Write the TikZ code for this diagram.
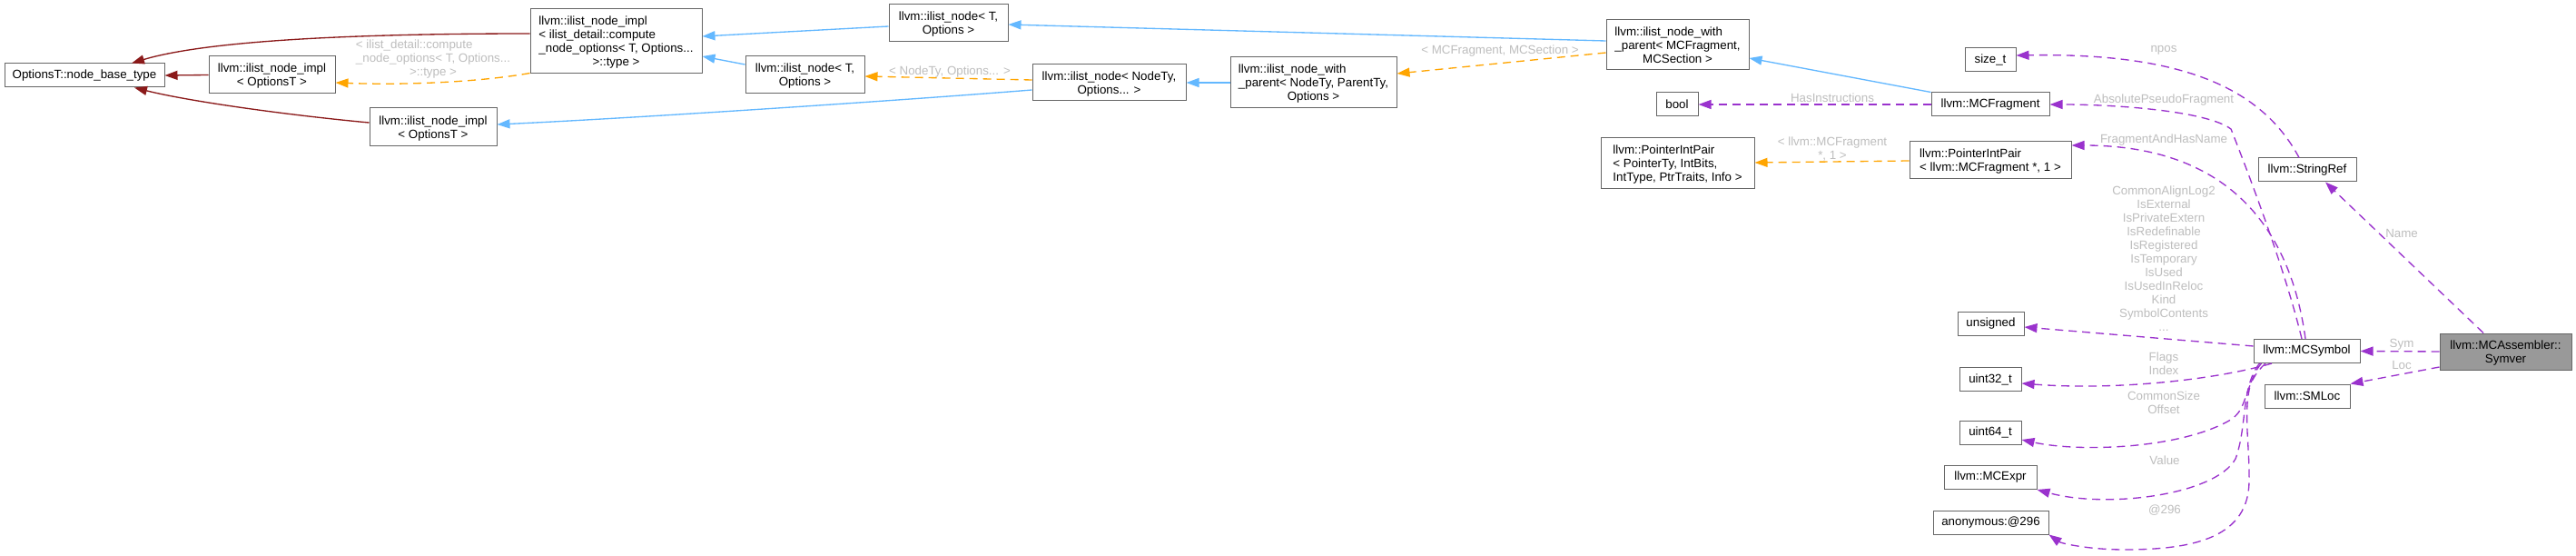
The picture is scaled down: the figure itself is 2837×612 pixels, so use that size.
\documentclass[tikz,border=0pt]{standalone}
\usepackage{fontspec}
\setmainfont{Liberation Sans}
\usetikzlibrary{arrows.meta,calc}
\definecolor{nodeborder}{HTML}{666666}
\definecolor{symfill}{HTML}{999999}
\definecolor{ered}{HTML}{8B1A1A}
\definecolor{eblue}{HTML}{63B8FF}
\definecolor{eorange}{HTML}{FFA500}
\definecolor{epurple}{HTML}{9A32CD}
\definecolor{lblgray}{HTML}{BEBEBE}
\newcommand{\LT}[2]{\raisebox{-2pt}[\height][\depth]{\begin{tabular}{@{}l@{}}#1\multicolumn{1}{@{}c@{}}{#2}\end{tabular}}}
\tikzset{
  box/.style={draw=nodeborder, fill=white, line width=1pt, inner sep=0pt, font=\fontsize{13.33}{15}\selectfont},
  tipped/.style={-{Triangle[length=14pt,width=10pt]}},
  priv/.style={tipped, draw=ered, line width=1.33pt},
  pub/.style={tipped, draw=eblue, line width=1.33pt},
  tmpl/.style={tipped, draw=eorange, line width=1.33pt, dash pattern=on 9pt off 6pt},
  use/.style={tipped, draw=epurple, line width=1.33pt, dash pattern=on 9pt off 6pt},
  lbl/.style={text=lblgray, inner sep=0pt, align=center, font=\fontsize{13.33}{15}\selectfont}
}
\begin{document}
\begin{tikzpicture}[x=1pt,y=-1pt]
\fill[white] (0,0) rectangle (2837,612);
\useasboundingbox (0,0) rectangle (2837,612);

% nodes
\node[box, minimum width=176pt, minimum height=26pt] (opt) at (93,83) {OptionsT::node\_base\_type};
\node[box, minimum width=139pt, minimum height=41pt] (impl1) at (299.5,82.5) {\LT{llvm::ilist\_node\_impl\\}{< OptionsT >}};
\node[box, minimum width=140pt, minimum height=42pt] (impl2) at (477,140) {\LT{llvm::ilist\_node\_impl\\}{< OptionsT >}};
\node[box, minimum width=189pt, minimum height=71pt] (bigimpl) at (678.5,45.5) {\LT{llvm::ilist\_node\_impl\\< ilist\_detail::compute\\\_node\_options< T, Options...\\}{>::type >}};
\node[box, minimum width=131pt, minimum height=41pt] (node1) at (1044.5,25.5) {\LT{llvm::ilist\_node< T,\\}{Options >}};
\node[box, minimum width=131pt, minimum height=41pt] (node2) at (886.5,82.5) {\LT{llvm::ilist\_node< T,\\}{Options >}};
\node[box, minimum width=169pt, minimum height=40pt] (node3) at (1221.5,91) {\LT{llvm::ilist\_node< NodeTy,\\}{Options... >}};
\node[box, minimum width=183pt, minimum height=56pt] (wp1) at (1446.5,91) {\LT{llvm::ilist\_node\_with\\\_parent< NodeTy, ParentTy,\\}{Options >}};
\node[box, minimum width=157pt, minimum height=55pt] (wp2) at (1847.5,49.5) {\LT{llvm::ilist\_node\_with\\\_parent< MCFragment,\\}{MCSection >}};
\node[box, minimum width=46pt, minimum height=26pt] (bool) at (1847,115) {bool};
\node[box, minimum width=169pt, minimum height=56pt] (pip1) at (1847.5,180) {\LT{llvm::PointerIntPair\\< PointerTy, IntBits,\\}{IntType, PtrTraits, Info >}};
\node[box, minimum width=56pt, minimum height=26pt] (sizet) at (2192,66) {size\_t};
\node[box, minimum width=130pt, minimum height=26pt] (mcfrag) at (2192,115) {llvm::MCFragment};
\node[box, minimum width=178pt, minimum height=41pt] (pip2) at (2192,176.5) {\LT{llvm::PointerIntPair\\}{< llvm::MCFragment *, 1 >}};
\node[box, minimum width=73pt, minimum height=26pt] (unsig) at (2192.5,356) {unsigned};
\node[box, minimum width=68pt, minimum height=26pt] (uintA) at (2192,417.5) {uint32\_t};
\node[box, minimum width=68pt, minimum height=26pt] (uintB) at (2192,476) {uint64\_t};
\node[box, minimum width=102pt, minimum height=26pt] (mcexpr) at (2192,525.5) {llvm::MCExpr};
\node[box, minimum width=127pt, minimum height=26pt] (anon) at (2192.5,575) {anonymous:@296};
\node[box, minimum width=108pt, minimum height=26pt] (stringref) at (2541,187) {llvm::StringRef};
\node[box, minimum width=117pt, minimum height=26pt] (mcsymbol) at (2540.5,386.5) {llvm::MCSymbol};
\node[box, minimum width=94pt, minimum height=26pt] (smloc) at (2541,436) {llvm::SMLoc};
\node[box, fill=symfill, minimum width=145pt, minimum height=40pt] (symver) at (2759.5,387) {\LT{llvm::MCAssembler::\\}{Symver}};

% private inheritance
\draw[priv] ($(bigimpl.west)+(0,-8.5)$) .. controls (330,37) and (210,50) .. ($(opt.north)+(52,0)$);
\draw[priv] (impl1.west) -- (opt.east);
\draw[priv] ($(impl2.west)+(0,-5)$) .. controls (320,127) and (210,112) .. ($(opt.south)+(55,0)$);

% public inheritance
\draw[pub] ($(node1.west)+(0,3.5)$) -- ($(bigimpl.east)+(0,-5.5)$);
\draw[pub] ($(node2.west)+(0,-11.5)$) -- ($(bigimpl.east)+(0,16.5)$);
\draw[pub] ($(node3.west)+(0,8)$) .. controls (1000,110) and (700,130) .. ($(impl2.east)+(0,-3)$);
\draw[pub] (wp1.west) -- (node3.east);
\draw[pub] ($(wp2.west)+(0,-4.5)$) -- ($(node1.east)+(0,1.5)$);
\draw[pub] (mcfrag.north west) -- ($(wp2.east)+(0,14.5)$);

% template instances
\draw[tmpl] ($(bigimpl.south west)+(0,-1)$) .. controls (530,90) and (450,94) .. ($(impl1.east)+(0,8.5)$);
\draw[tmpl] ($(node3.west)+(0,-3)$) -- ($(node2.east)+(0,1.5)$);
\draw[tmpl] ($(wp2.west)+(0,8.5)$) -- ($(wp1.east)+(0,-10)$);
\draw[tmpl] ($(pip2.west)+(0,0.5)$) -- ($(pip1.east)+(0,-1)$);

% usage
\draw[use] (mcfrag.west) -- (bool.east);
\draw[use] ($(stringref.north)+(-9,0)$) .. controls (2490,95) and (2400,58) .. ($(sizet.east)+(0,-5)$);
\draw[use] ($(mcsymbol.north)+(-5.5,0)$) .. controls (2515,290) and (2470,175) .. (2457,142) .. controls (2430,122) and (2330,115) .. (mcfrag.east);
\draw[use] ($(mcsymbol.north)+(-1.5,0)$) .. controls (2525,270) and (2470,160) .. ($(pip2.east)+(0,-16.5)$);
\draw[use] ($(mcsymbol.west)+(0,-5.5)$) -- ($(unsig.east)+(0,4)$);
\draw[use] ($(mcsymbol.south)+(-38.5,0)$) .. controls (2440,418) and (2330,430) .. ($(uintA.east)+(0,4.5)$);
\draw[use] ($(mcsymbol.south)+(-45.5,0)$) .. controls (2468,425) and (2478,450) .. (2455,463) .. controls (2400,494) and (2290,498) .. ($(uintB.east)+(0,8)$);
\draw[use] ($(mcsymbol.south)+(-52,0)$) .. controls (2468,425) and (2475,470) .. (2462,505) .. controls (2440,545) and (2320,560) .. (mcexpr.south east);
\draw[use] ($(mcsymbol.south)+(-50,0)$) .. controls (2465,430) and (2478,480) .. (2477,530) .. controls (2476,590) and (2420,605) .. (2340,605) .. controls (2300,605) and (2270,598) .. (anon.south east);
\draw[use] ($(symver.north)+(-24.5,0)$) -- ($(stringref.south)+(20,0)$);
\draw[use] (symver.west) -- (mcsymbol.east);
\draw[use] ($(symver.west)+(0,17)$) -- (smloc.north east);

% labels
\node[lbl] (l1) at (477,64) {\LT{< ilist\_detail::compute\\\_node\_options< T, Options...\\}{>::type >}};
\node[lbl] (l2) at (1046,79) {< NodeTy, Options... >};
\node[lbl] (l3) at (1652,56) {< MCFragment, MCSection >};
\node[lbl] (l4) at (2018,108) {HasInstructions};
\node[lbl] (l5) at (2018,164.5) {< llvm::MCFragment\\*, 1 >};
\node[lbl] (l6) at (2383,55) {npos};
\node[lbl] (l7) at (2383,110) {AbsolutePseudoFragment};
\node[lbl] (l8) at (2383,154) {FragmentAndHasName};
\node[lbl] (l9) at (2383,285) {CommonAlignLog2\\IsExternal\\IsPrivateExtern\\IsRedefinable\\IsRegistered\\IsTemporary\\IsUsed\\IsUsedInReloc\\Kind\\SymbolContents\\...};
\node[lbl] (l10) at (2383,400) {Flags\\Index};
\node[lbl] (l11) at (2383,443.5) {CommonSize\\Offset};
\node[lbl] (l12) at (2384,507) {Value};
\node[lbl] (l13) at (2384,562) {@296};
\node[lbl] (l14) at (2645,257) {Name};
\node[lbl] (l15) at (2645,379) {Sym};
\node[lbl] (l16) at (2645,402) {Loc};
\end{tikzpicture}
\end{document}
